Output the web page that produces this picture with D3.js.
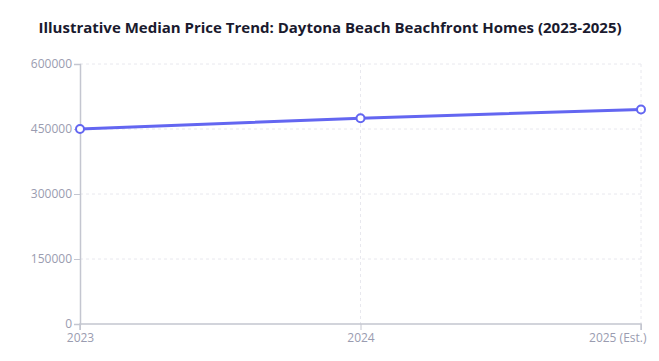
<!DOCTYPE html>
<html><head><meta charset="utf-8">
<script src="https://cdn.jsdelivr.net/npm/d3@7"></script>
<style>
html,body{margin:0;padding:0;background:#fff;}
svg{display:block;font-family:"Open Sans","Noto Sans",sans-serif;}
</style></head>
<body>
<svg id="chart" width="659" height="361"></svg>
<script>
const categories = ["2023", "2024", "2025 (Est.)"];
const prices = [450000, 475000, 495000];
const yTicks = [0, 150000, 300000, 450000, 600000];
const title = "Illustrative Median Price Trend: Daytona Beach Beachfront Homes (2023-2025)";

const svg = d3.select("#chart");
const m = {left: 80, right: 18, top: 64, bottom: 37};
const W = 659, H = 361;
const x = d3.scalePoint().domain(categories).range([m.left, W - m.right]);
const y = d3.scaleLinear().domain([0, 600000]).range([H - m.bottom, m.top]);

svg.append("text").attr("x", 330).attr("y", 33).attr("text-anchor", "middle")
  .attr("font-size", 15).attr("font-weight", "bold").attr("fill", "#1a1a2e").text(title);

const grid = svg.append("g");
grid.selectAll(".hg").data(yTicks.filter(d => d > 0)).join("line")
  .attr("x1", m.left).attr("x2", W - m.right)
  .attr("y1", d => y(d)).attr("y2", d => y(d))
  .attr("stroke", "#e8e8ee").attr("stroke-dasharray", "3,3");
grid.selectAll(".vg").data(categories.slice(1)).join("line")
  .attr("x1", d => x(d)).attr("x2", d => x(d))
  .attr("y1", m.top).attr("y2", H - m.bottom)
  .attr("stroke", "#e8e8ee").attr("stroke-dasharray", "3,3");

const axisColor = "#c4c6d0", textColor = "#9a9cb0";
const xAxis = svg.append("g").attr("transform", `translate(0,${H - m.bottom})`)
  .call(d3.axisBottom(x).tickSize(6).tickPadding(3));
const yAxis = svg.append("g").attr("transform", `translate(${m.left},0)`)
  .call(d3.axisLeft(y).tickValues(yTicks).tickFormat(d3.format("d")).tickSize(6).tickPadding(2));
[xAxis, yAxis].forEach(a => {
  a.select(".domain").attr("stroke", axisColor).attr("stroke-width", 1.5);
  a.selectAll(".tick line").attr("stroke", axisColor);
  a.selectAll(".tick text").attr("fill", textColor).attr("font-size", 12)
    .attr("font-family", '"Open Sans","Noto Sans",sans-serif');
});
xAxis.select(".domain").attr("d", `M${m.left},6V0H${W - m.right}V6`);
xAxis.selectAll(".tick text").filter((d, i) => i === categories.length - 1)
  .attr("text-anchor", "end").attr("dx", 5);

const data = categories.map((c, i) => ({c, v: prices[i]}));
svg.append("path").datum(data)
  .attr("fill", "none").attr("stroke", "#6366f1").attr("stroke-width", 3)
  .attr("d", d3.line().x(d => x(d.c)).y(d => y(d.v)));
svg.selectAll(".pt").data(data).join("circle")
  .attr("cx", d => x(d.c)).attr("cy", d => y(d.v)).attr("r", 4)
  .attr("fill", "#fff").attr("stroke", "#6366f1").attr("stroke-width", 2);
</script>
</body></html>
